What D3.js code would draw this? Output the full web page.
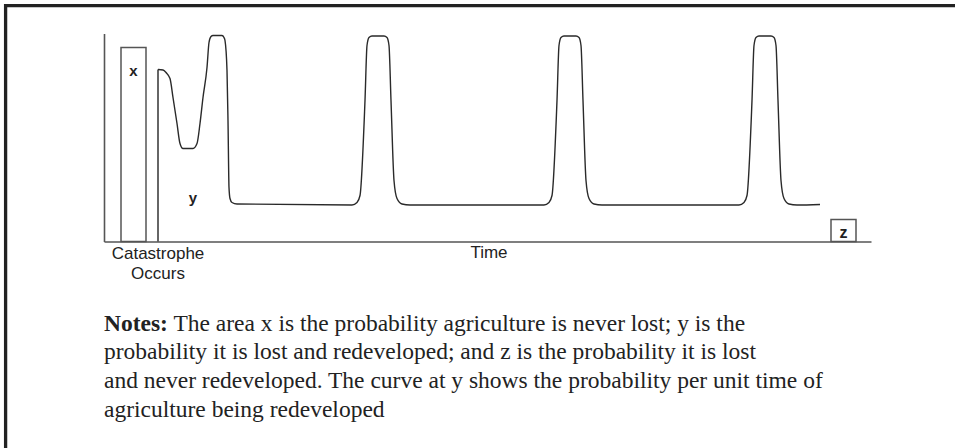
<!DOCTYPE html>
<html>
<head>
<meta charset="utf-8">
<script src="https://cdn.jsdelivr.net/npm/d3@7"></script>
<style>
  body { margin: 0; background: #fff; }
  svg { display: block; }
</style>
</head>
<body>
<div id="chart"></div>
<script>
// time runs 0..767 (arbitrary units), density 0..208 (arbitrary units)
let timeDomain = [0, 767];
let densityDomain = [0, 208];

// curve: probability per unit time of agriculture being redeveloped
let curveTime = [54, 59, 62, 66, 69, 73, 76, 79, 89, 93, 96, 99, 103, 105, 107, 109, 118, 120, 121, 123, 124, 125, 126, 128, 133,
  248, 253, 256, 261, 263, 265, 268, 280, 283, 285, 287, 290, 293, 298, 306,
  440, 445, 448, 453, 455, 457, 460, 472, 475, 477, 479, 482, 485, 490, 498,
  635, 640, 643, 648, 650, 652, 655, 667, 670, 672, 674, 677, 680, 685, 693,
  716];
let curveDensity = [172, 171.5, 169, 163, 144, 118, 98, 93, 93, 98, 118, 144, 174, 199, 205, 206, 206, 204, 201, 171, 121, 54, 43, 39, 37.5,
  36.5, 39, 46, 141, 196, 204, 205.5, 205.5, 204, 196, 141, 61, 43, 37.5, 36.5,
  36.5, 39, 46, 141, 196, 204, 205.5, 205.5, 204, 196, 141, 61, 43, 37.5, 36.5,
  36.5, 39, 46, 141, 196, 204, 205.5, 205.5, 204, 196, 141, 61, 43, 37.5, 36.5,
  37];

// area boxes: x (never lost) and z (lost, never redeveloped)
let boxNames = ["x", "z"];
let boxStart = [17, 727];
let boxEnd = [42, 752];
let boxHeight = [194, 22];

let catastropheTime = 54;
let yLabelPos = [89, 44];

let axisTitles = ["Catastrophe", "Occurs"];
let timeTitle = "Time";

let notesLines = [
  ["Notes:", " The area x is the probability agriculture is never lost; y is the"],
  ["", "probability it is lost and redeveloped; and z is the probability it is lost"],
  ["", "and never redeveloped. The curve at y shows the probability per unit time of"],
  ["", "agriculture being redeveloped"]
];

let W = 955, H = 448;
let svg = d3.select("#chart").append("svg")
  .attr("width", W).attr("height", H);

// page frame (top and left rules)
svg.append("line").attr("x1", 4).attr("x2", W).attr("y1", 5.6).attr("y2", 5.6)
  .attr("stroke", "#222").attr("stroke-width", 3.3);
svg.append("line").attr("x1", 5.6).attr("x2", 5.6).attr("y1", 4).attr("y2", H)
  .attr("stroke", "#222").attr("stroke-width", 3.3);

let x = d3.scaleLinear().domain(timeDomain).range([104, 871]);
let y = d3.scaleLinear().domain(densityDomain).range([241.5, 33.5]);

let axisCol = "#555";

// axes without ticks
let yAxis = svg.append("g").attr("transform", "translate(" + x(0) + ",0)")
  .call(d3.axisLeft(y).tickValues([]).tickSizeOuter(0));
let xAxis = svg.append("g").attr("transform", "translate(0," + y(0) + ")")
  .call(d3.axisBottom(x).tickValues([]).tickSizeOuter(0));
svg.selectAll(".domain").attr("stroke", axisCol).attr("stroke-width", 1.6);

// boxes
let boxes = boxNames.map(function(n, i){
  return {name: n, t0: boxStart[i], t1: boxEnd[i], h: boxHeight[i]};
});
svg.selectAll("rect.box").data(boxes).enter().append("rect")
  .attr("class", "box")
  .attr("x", function(d){ return x(d.t0); })
  .attr("y", function(d){ return y(d.h); })
  .attr("width", function(d){ return x(d.t1) - x(d.t0); })
  .attr("height", function(d){ return y(0) - y(d.h); })
  .attr("fill", "none").attr("stroke", axisCol).attr("stroke-width", 1.5);

svg.selectAll("text.boxlab").data(boxes).enter().append("text")
  .attr("class", "boxlab")
  .attr("x", function(d){ return (x(d.t0) + x(d.t1)) / 2; })
  .attr("y", function(d){ return d.name == "x" ? y(d.h) + 28 : y(0) - 3.5; })
  .attr("text-anchor", "middle")
  .style("font-family", "'Liberation Sans', Arial, sans-serif")
  .style("font-weight", "bold").style("font-size", d => d.name == "x" ? "15px" : "16px")
  .attr("fill", "#222")
  .text(function(d){ return d.name; });

// catastrophe line, joins the curve
let pts = curveTime.map(function(t, i){ return [t, curveDensity[i]]; });
svg.append("line")
  .attr("x1", x(catastropheTime)).attr("x2", x(catastropheTime))
  .attr("y1", y(0)).attr("y2", y(curveDensity[0]))
  .attr("stroke", "#333").attr("stroke-width", 1.5);

let line = d3.line()
  .x(function(d){ return x(d[0]); })
  .y(function(d){ return y(d[1]); })
  .curve(d3.curveMonotoneX);
svg.append("path").datum(pts)
  .attr("d", line)
  .attr("fill", "none").attr("stroke", "#2a2a2a").attr("stroke-width", 1.4);

svg.append("text")
  .attr("x", x(yLabelPos[0])).attr("y", y(yLabelPos[1]) + 5)
  .attr("text-anchor", "middle")
  .style("font-family", "'Liberation Sans', Arial, sans-serif")
  .style("font-weight", "bold").style("font-size", "15px")
  .attr("fill", "#222").text("y");

// axis titles
let sans = "'Liberation Sans', Arial, sans-serif";
svg.selectAll("text.cat").data(axisTitles).enter().append("text")
  .attr("class", "cat")
  .attr("x", x(catastropheTime))
  .attr("y", function(d, i){ return 259 + i * 19.5; })
  .attr("text-anchor", "middle")
  .style("font-family", sans).style("font-size", "17px").attr("fill", "#222")
  .text(function(d){ return d; });

svg.append("text")
  .attr("x", 489).attr("y", 257.5)
  .attr("text-anchor", "middle")
  .style("font-family", sans).style("font-size", "17px").attr("fill", "#222")
  .text(timeTitle);

// notes
let notes = svg.append("g");
notesLines.forEach(function(l, i){
  let t = notes.append("text")
    .attr("x", 104).attr("y", 330.5 + i * 28.8)
    .style("font-family", "'Liberation Serif', 'Times New Roman', serif")
    .style("font-size", "23.5px").attr("fill", "#222");
  if (l[0]) t.append("tspan").style("font-weight", "bold").text(l[0]);
  t.append("tspan").text(l[1]);
});
</script>
</body>
</html>
